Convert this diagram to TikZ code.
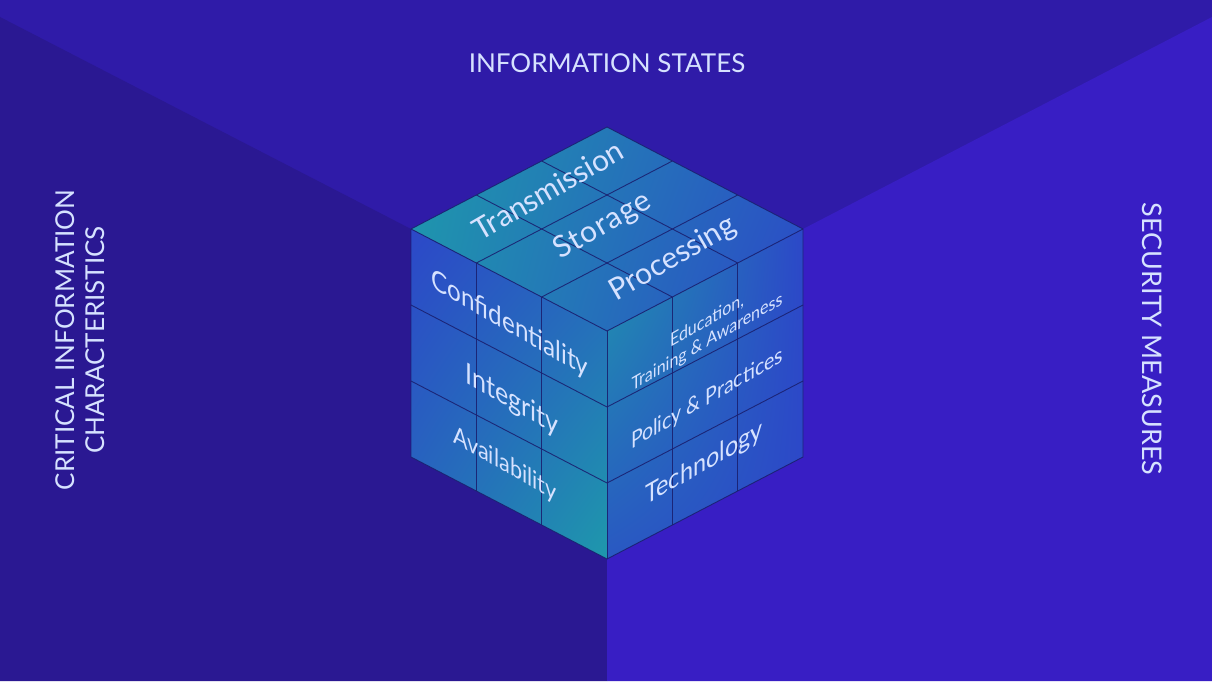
\documentclass[tikz,border=0pt]{standalone}
\usepackage{fontspec}
\setmainfont{Lato}
\usetikzlibrary{shadings}
\definecolor{ceilc}{RGB}{47,27,168}
\definecolor{leftc}{RGB}{42,24,146}
\definecolor{rightc}{RGB}{56,30,196}
\definecolor{tealc}{RGB}{30,152,172}
\definecolor{cblue}{RGB}{44,72,200}
\definecolor{gridc}{RGB}{26,32,112}
\definecolor{txtc}{RGB}{214,226,255}
\tikzset{
  gridline/.style={draw=gridc, line width=0.9pt, opacity=0.9},
  facetext/.style={text=txtc, inner sep=0pt, transform shape},
  walltext/.style={text=txtc, inner sep=0pt, font=\fontsize{26}{30}\selectfont, align=center}
}
\begin{document}
\begin{tikzpicture}[x=1pt,y=1pt]
\useasboundingbox (0,0) rectangle (1212,681);
% cube vertices
\coordinate (T) at (607,554);
\coordinate (L) at (411,452);
\coordinate (R) at (803,452);
\coordinate (F) at (607,350);
\coordinate (BL) at (411,224);
\coordinate (B) at (607,122);
\coordinate (BR) at (803,224);
\coordinate (CL) at (0,664);
\coordinate (CR) at (1212,664);
\coordinate (FL) at (607,0);
% room
\fill[ceilc] (0,0) rectangle (1212,681);
\fill[leftc] (0,0) -- (CL) -- (L) -- (F) -- (B) -- (FL) -- cycle;
\fill[rightc] (FL) -- (B) -- (F) -- (R) -- (CR) -- (1212,0) -- cycle;
% faces
\shade[upper left=tealc, lower left=tealc!92!cblue, upper right=cblue!80!tealc, lower right=cblue] (L) -- (T) -- (R) -- (F) -- cycle;
\shade[upper left=cblue, upper right=cblue!65!tealc, lower left=cblue!55!tealc, lower right=tealc] (L) -- (F) -- (B) -- (BL) -- cycle;
\shade[upper left=tealc, upper right=cblue, lower left=cblue!80!tealc, lower right=cblue] (F) -- (R) -- (BR) -- (B) -- cycle;
% grid
\foreach \k in {1,2}{
  \draw[gridline] ({411+196*\k/3},{452-102*\k/3}) -- ++(196,102);
  \draw[gridline] ({411+196*\k/3},{452+102*\k/3}) -- ++(196,-102);
  \draw[gridline] ({411+196*\k/3},{452-102*\k/3}) -- ++(0,-228);
  \draw[gridline] (411,{452-76*\k}) -- ++(196,-102);
  \draw[gridline] ({607+196*\k/3},{350+102*\k/3}) -- ++(0,-228);
  \draw[gridline] (607,{350-76*\k}) -- ++(196,102);
}
\draw[gridline] (L) -- (T) -- (R) -- (BR) -- (B) -- (BL) -- cycle;
\draw[gridline] (L) -- (F) -- (R);
\draw[gridline] (F) -- (B);
% top face text
\node[facetext, rotate=30, font=\fontsize{30}{34}\selectfont] (trans) at (548,491) {Transmission};
\node[facetext, rotate=30, font=\fontsize{30}{34}\selectfont] (stor) at (603,455) {\addfontfeature{LetterSpace=4}Storage};
\node[facetext, rotate=30, font=\fontsize{30}{34}\selectfont] (proc) at (673,422) {Processing};
% left face text
\begin{scope}[shift={(510,356)}, cm={0.866,-0.5,0,1,(0,0)}]
  \node[facetext, font=\fontsize{28}{32}\selectfont] (conf) {Confidentiality};
\end{scope}
\begin{scope}[shift={(512,280)}, cm={0.866,-0.5,0,1,(0,0)}]
  \node[facetext, font=\fontsize{29}{33}\selectfont] (integ) {Integrity};
\end{scope}
\begin{scope}[shift={(505,216)}, cm={0.866,-0.5,0,1,(0,0)}]
  \node[facetext, font=\fontsize{25}{30}\selectfont] (avail) {Availability};
\end{scope}
% right face text
\begin{scope}[shift={(707,349)}, cm={0.866,0.5,0,1,(0,0)}]
  \node[facetext, font=\fontsize{18.5}{21}\selectfont, align=center] (edu) {Education,\\Training \& Awareness};
\end{scope}
\begin{scope}[shift={(707,282)}, cm={0.866,0.5,0,1,(0,0)}]
  \node[facetext, font=\fontsize{22.5}{26}\selectfont] (pol) {Policy \& Practices};
\end{scope}
\begin{scope}[shift={(704,217)}, cm={0.866,0.5,0,1,(0,0)}]
  \node[facetext, font=\fontsize{27}{31}\selectfont] (tech) {Technology};
\end{scope}
% wall labels
\node[walltext] (states) at (607,618) {INFORMATION STATES};
\node[walltext, rotate=90] (crit) at (80,341) {CRITICAL INFORMATION\\CHARACTERISTICS};
\node[walltext, rotate=-90, font=\fontsize{27}{31}\selectfont] (sec) at (1152,342) {SECURITY MEASURES};
\end{tikzpicture}
\end{document}
